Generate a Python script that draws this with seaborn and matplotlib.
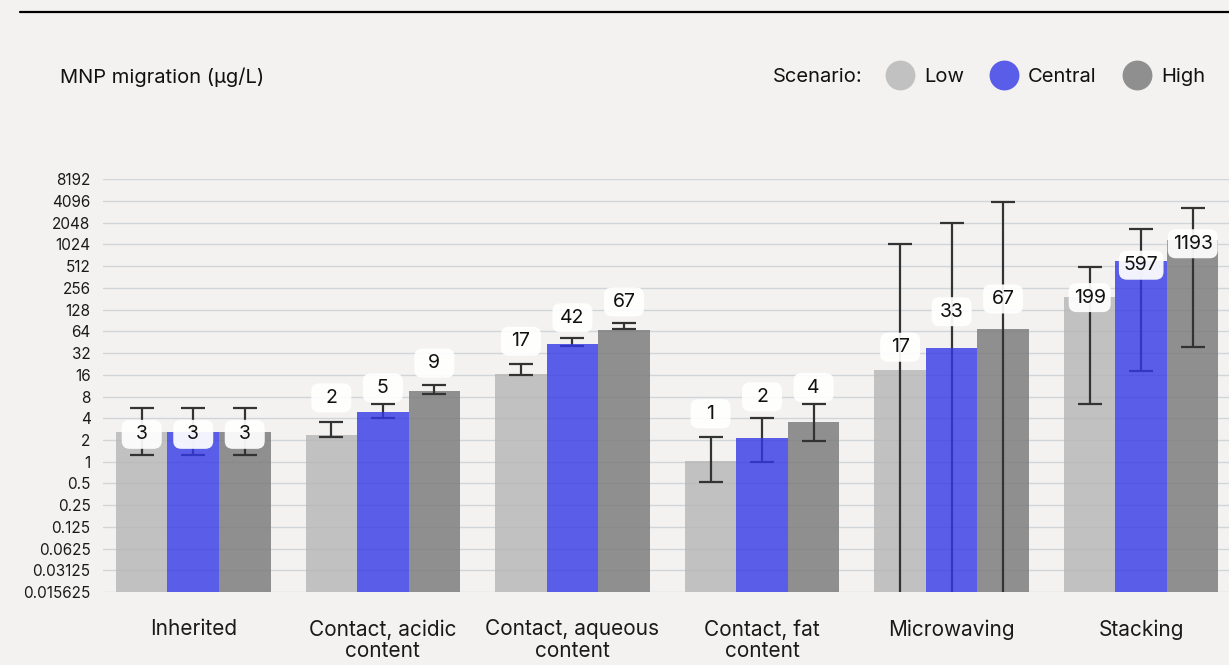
import matplotlib
matplotlib.use("Agg")
import matplotlib.pyplot as plt
from matplotlib.lines import Line2D
from matplotlib.patches import BoxStyle
import numpy as np
import pandas as pd
import seaborn as sns

# ---------------- data ----------------
categories = ["Inherited", "Contact, acidic\ncontent", "Contact, aqueous\ncontent",
              "Contact, fat\ncontent", "Microwaving", "Stacking"]
scenarios = ["Low", "Central", "High"]

low_values = [2.55, 2.35, 16.3, 1.03, 18.5, 194]
central_values = [2.55, 4.9, 43, 2.14, 38, 600]
high_values = [2.55, 9.5, 67, 3.6, 69, 1190]

low_err_lo = [1.23, 2.2, 15.7, 0.53, 0.005, 6.3]
low_err_hi = [5.5, 3.5, 22.5, 2.2, 1040, 505]
central_err_lo = [1.23, 3.97, 40, 1.0, 0.005, 18]
central_err_hi = [5.5, 6.2, 52, 4.05, 2020, 1670]
high_err_lo = [1.23, 8.6, 70, 1.95, 0.005, 39]
high_err_hi = [5.5, 11.5, 84, 6.3, 4020, 3260]

low_labels = ["3", "2", "17", "1", "17", "199"]
central_labels = ["3", "5", "42", "2", "33", "597"]
high_labels = ["3", "9", "67", "4", "67", "1193"]

# label offsets above the bar top (pixels)
low_label_off = [-2, 37, 33, 47, 23, -1]
central_label_off = [-2, 24, 26, 41, 36, -4]
high_label_off = [-2, 28, 28, 34, 30, -4]

ytick_values = [2.0 ** k for k in range(-6, 14)]
ytick_labels = ["0.015625", "0.03125", "0.0625", "0.125", "0.25", "0.5", "1", "2", "4", "8",
                "16", "32", "64", "128", "256", "512", "1024", "2048", "4096", "8192"]

colors = {"Low": "#b6b5b5", "Central": "#3338e5", "High": "#777777"}
bg = "#f3f2f1"
DPI = 100


def pill_box(x0, y0, width, height, mutation_size):
    """Rounded label box with a minimum width and fixed height (display px)."""
    cx = x0 + width / 2
    cy = y0 + height / 2
    w = max(width + 10, 40)
    h = 29
    return BoxStyle.Round(pad=0, rounding_size=8)(cx - w / 2, cy - h / 2, w, h, 1.0)


# ---------------- figure ----------------
sns.set_theme(style="white")
plt.rcParams["font.family"] = ["Inter", "DejaVu Sans"]

fig = plt.figure(figsize=(12.29, 6.65), dpi=DPI, facecolor=bg)
ax = fig.add_axes([103 / 1229, 1 - 592 / 665, 1126 / 1229, (592 - 179.3) / 665])
ax.set_facecolor(bg)

df = pd.DataFrame({
    "category": categories * 3,
    "scenario": sum([[s] * len(categories) for s in scenarios], []),
    "value": low_values + central_values + high_values,
})

sns.barplot(data=df, x="category", y="value", hue="scenario", hue_order=scenarios,
            palette=colors, alpha=0.8, width=0.815, errorbar=None, legend=False,
            saturation=1, ax=ax, linewidth=0)

ax.set_yscale("log", base=2)
ax.set_ylim(ytick_values[0], ytick_values[-1])
ax.set_xlim(-0.476, 5.463)
ax.set_yticks(ytick_values)
ax.set_yticklabels(ytick_labels)
ax.yaxis.set_minor_locator(matplotlib.ticker.NullLocator())
ax.set_xlabel("")
ax.set_ylabel("")

ax.grid(axis="y", color="#d2d5d8", linewidth=1.0, zorder=0)
ax.grid(axis="x", visible=False)
ax.set_axisbelow(True)
for sp in ax.spines.values():
    sp.set_visible(False)

ax.tick_params(axis="y", length=0, pad=9, labelsize=11, labelcolor="#1a1a1a")
ax.tick_params(axis="x", length=0, pad=19.5, labelsize=15, labelcolor="#1a1a1a")
for t in ax.get_xticklabels():
    t.set_linespacing(1.1)

vals = [low_values, central_values, high_values]
los = [low_err_lo, central_err_lo, high_err_lo]
his = [low_err_hi, central_err_hi, high_err_hi]
labs = [low_labels, central_labels, high_labels]
offs = [low_label_off, central_label_off, high_label_off]
bar_z = [2, 4, 2]

label_fs = 14
bar_containers = list(ax.containers)
for i, cont in enumerate(bar_containers):
    for p in cont.patches:
        p.set_zorder(bar_z[i])
    xs = [p.get_x() + p.get_width() / 2 for p in cont.patches]
    v = np.array(vals[i])
    lo = np.array(los[i])
    hi = np.array(his[i])
    centers = np.sqrt(lo * hi)
    ax.errorbar(xs, centers, yerr=[centers - lo, hi - centers], fmt="none",
                ecolor="#333333", elinewidth=1.6, capsize=8.5, capthick=1.6, zorder=3)
    for x, y, t, o in zip(xs, v, labs[i], offs[i]):
        ax.annotate(t, xy=(x, y), xytext=(0, o), textcoords="offset pixels",
                    ha="center", va="center", fontsize=label_fs, color="#111111",
                    zorder=6,
                    bbox=dict(boxstyle=pill_box, fc="white", ec="none", alpha=0.93))

# title / axis label
fig.text(60 / 1229, 1 - 77 / 665, "MNP migration (μg/L)", fontsize=14.5,
         ha="left", va="center", color="#111111")

# top rule
fig.add_artist(Line2D([20 / 1229, 1.0], [1 - 12 / 665, 1 - 12 / 665],
                      color="black", linewidth=1.6, transform=fig.transFigure))

# legend
fig.text(773 / 1229, 1 - 77 / 665, "Scenario:", fontsize=14.5, ha="left", va="center",
         color="#111111")
handles = [Line2D([], [], marker="o", linestyle="", markersize=21.5,
                  markerfacecolor=colors[s], markeredgecolor="none", alpha=0.8)
           for s in scenarios]
leg = fig.legend(handles, scenarios, loc="center right",
                 bbox_to_anchor=(1205 / 1229, 1 - 77 / 665), ncol=3, frameon=False,
                 fontsize=14.5, handletextpad=0.45, columnspacing=1.24,
                 handlelength=1.5, borderaxespad=0, borderpad=0)
for t in leg.get_texts():
    t.set_color("#111111")

fig.savefig("out.png", dpi=DPI, facecolor=bg)
